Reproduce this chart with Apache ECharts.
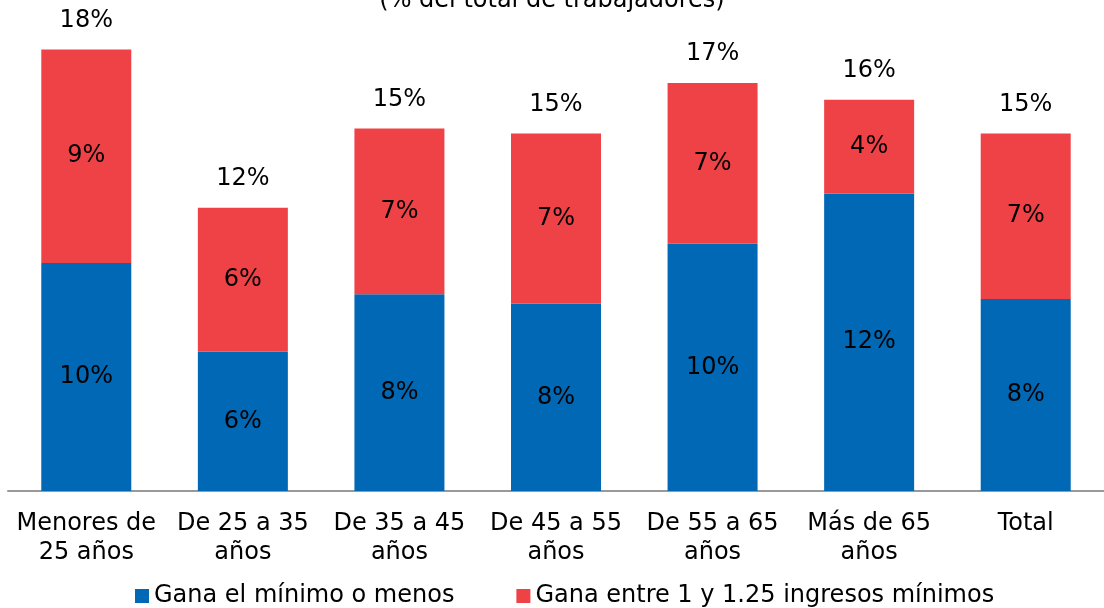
<!DOCTYPE html>
<html>
<head>
<meta charset="utf-8">
<script src="https://cdn.jsdelivr.net/npm/echarts@6/dist/echarts.min.js"></script>
<style>
  html, body { margin: 0; padding: 0; background: #fff; overflow: hidden; }
</style>
</head>
<body>
<div id="main" style="width: 1104px; height: 608px"></div>
<script>
// categorias (edad)
const categorias = ['Menores de\n25 años', 'De 25 a 35\naños', 'De 35 a 45\naños', 'De 45 a 55\naños', 'De 55 a 65\naños', 'Más de 65\naños', 'Total']
// % del total de trabajadores
const ganaMinimo = [9.5, 5.8, 8.2, 7.8, 10.3, 12.4, 8.0]
const ganaEntre = [8.9, 6.0, 6.9, 7.1, 6.7, 3.9, 6.9]
const totales = ganaMinimo.map((v, i) => +(v + ganaEntre[i]).toFixed(1))

const fuente = 'DejaVu Sans'
const tam = 24
const pct = p => Math.round(p.value) + '%'
const etiqueta = { show: true, position: 'inside', formatter: pct, fontSize: tam, color: '#000', fontFamily: fuente, textBorderWidth: 0 }

var myChart = echarts.init(document.getElementById('main'))
var option = {
  animation: false,
  textStyle: { fontFamily: fuente },
  title: {
    text: '(% del total de trabajadores)',
    left: 'center',
    top: -16,
    textStyle: { fontFamily: fuente, fontSize: tam, fontWeight: 'normal', color: '#000' }
  },
  legend: {
    data: ['Gana el mínimo o menos', 'Gana entre 1 y 1.25 ingresos mínimos'],
    left: 130,
    top: 579,
    itemWidth: 14,
    itemHeight: 14,
    itemGap: 62,
    icon: 'rect',
    textStyle: { fontFamily: fuente, fontSize: tam, color: '#000' }
  },
  grid: {
    left: 8,
    right: -11,
    top: 11,
    bottom: 117
  },
  xAxis: {
    type: 'category',
    data: categorias,
    axisLine: { lineStyle: { color: '#999', width: 2 } },
    axisTick: { show: false },
    axisLabel: {
      interval: 0,
      margin: 18,
      fontFamily: fuente,
      fontSize: tam,
      lineHeight: 29,
      color: '#000'
    }
  },
  yAxis: {
    type: 'value',
    min: 0,
    max: 20,
    show: false
  },
  series: [
    {
      name: 'Gana el mínimo o menos',
      type: 'bar',
      stack: 'a',
      barWidth: 90,
      itemStyle: { color: '#0068b4' },
      label: etiqueta,
      data: ganaMinimo
    },
    {
      name: 'Gana entre 1 y 1.25 ingresos mínimos',
      type: 'bar',
      stack: 'a',
      barWidth: 90,
      itemStyle: { color: '#ef4247' },
      label: etiqueta,
      data: ganaEntre
    },
    {
      name: 'total',
      type: 'scatter',
      symbolSize: 0,
      itemStyle: { opacity: 1, color: '#000' },
      label: { show: true, position: 'top', distance: 17, formatter: pct, fontSize: tam, color: '#000', fontFamily: fuente, textBorderWidth: 0 },
      data: totales
    }
  ]
}
myChart.setOption(option)
</script>
</body>
</html>
